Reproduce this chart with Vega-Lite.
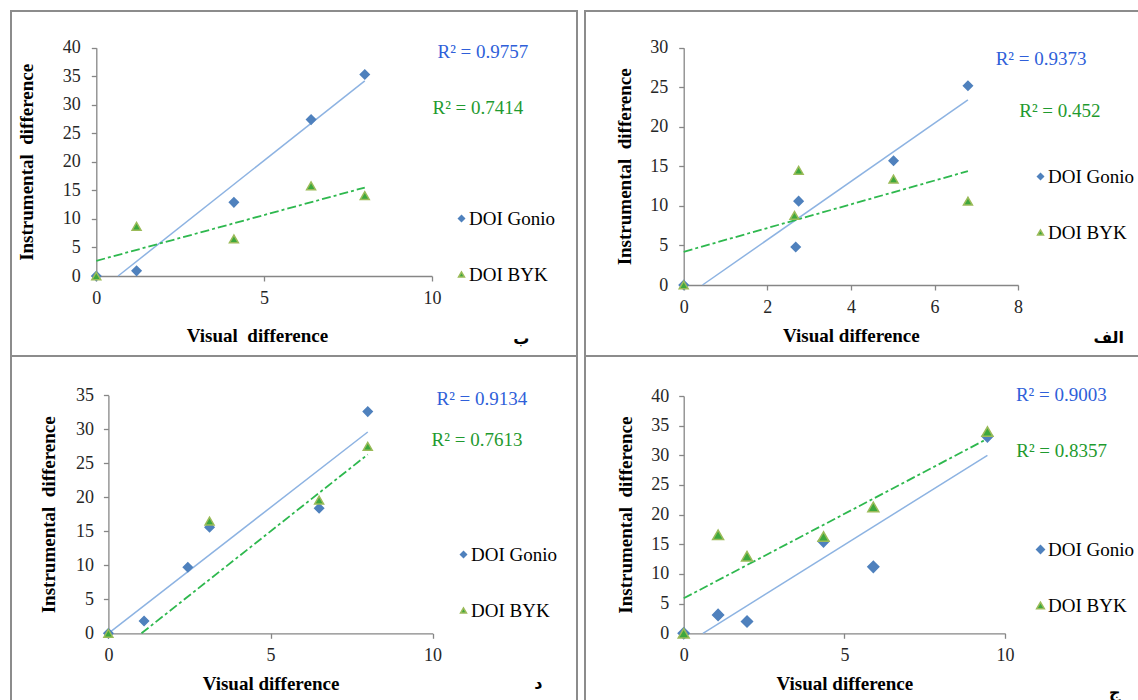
{
  "$schema": "https://vega.github.io/schema/vega-lite/v6.json",
  "padding": {"left": 10, "top": 10, "right": 0, "bottom": 0},
  "background": "white",
  "columns": 2,
  "spacing": {"row": 0, "column": 8},
  "bounds": "flush",
  "datasets": {
    "points": [
      {"panel": "TL", "series": "DOI Gonio", "x": 0, "y": 0},
      {"panel": "TL", "series": "DOI Gonio", "x": 1.2, "y": 0.9},
      {"panel": "TL", "series": "DOI Gonio", "x": 4.1, "y": 12.9},
      {"panel": "TL", "series": "DOI Gonio", "x": 6.4, "y": 27.4},
      {"panel": "TL", "series": "DOI Gonio", "x": 8.0, "y": 35.3},
      {"panel": "TL", "series": "DOI BYK", "x": 0, "y": 0},
      {"panel": "TL", "series": "DOI BYK", "x": 1.2, "y": 8.7},
      {"panel": "TL", "series": "DOI BYK", "x": 4.1, "y": 6.5},
      {"panel": "TL", "series": "DOI BYK", "x": 6.4, "y": 15.8},
      {"panel": "TL", "series": "DOI BYK", "x": 8.0, "y": 14.1},
      {"panel": "TR", "series": "DOI Gonio", "x": 0, "y": 0},
      {"panel": "TR", "series": "DOI Gonio", "x": 2.68, "y": 4.8},
      {"panel": "TR", "series": "DOI Gonio", "x": 2.75, "y": 10.6},
      {"panel": "TR", "series": "DOI Gonio", "x": 5.02, "y": 15.7},
      {"panel": "TR", "series": "DOI Gonio", "x": 6.8, "y": 25.2},
      {"panel": "TR", "series": "DOI BYK", "x": 0, "y": 0},
      {"panel": "TR", "series": "DOI BYK", "x": 2.65, "y": 8.8},
      {"panel": "TR", "series": "DOI BYK", "x": 2.75, "y": 14.5},
      {"panel": "TR", "series": "DOI BYK", "x": 5.02, "y": 13.4},
      {"panel": "TR", "series": "DOI BYK", "x": 6.8, "y": 10.6},
      {"panel": "BL", "series": "DOI Gonio", "x": 0, "y": 0},
      {"panel": "BL", "series": "DOI Gonio", "x": 1.1, "y": 1.8},
      {"panel": "BL", "series": "DOI Gonio", "x": 2.45, "y": 9.7},
      {"panel": "BL", "series": "DOI Gonio", "x": 3.12, "y": 15.6},
      {"panel": "BL", "series": "DOI Gonio", "x": 6.5, "y": 18.4},
      {"panel": "BL", "series": "DOI Gonio", "x": 8.0, "y": 32.6},
      {"panel": "BL", "series": "DOI BYK", "x": 0, "y": 0},
      {"panel": "BL", "series": "DOI BYK", "x": 3.12, "y": 16.5},
      {"panel": "BL", "series": "DOI BYK", "x": 6.5, "y": 19.6},
      {"panel": "BL", "series": "DOI BYK", "x": 8.0, "y": 27.5},
      {"panel": "BR", "series": "DOI Gonio", "x": 0, "y": 0},
      {"panel": "BR", "series": "DOI Gonio", "x": 1.07, "y": 3.1},
      {"panel": "BR", "series": "DOI Gonio", "x": 1.97, "y": 2.0},
      {"panel": "BR", "series": "DOI Gonio", "x": 4.35, "y": 15.5},
      {"panel": "BR", "series": "DOI Gonio", "x": 5.9, "y": 11.2},
      {"panel": "BR", "series": "DOI Gonio", "x": 9.45, "y": 33.2},
      {"panel": "BR", "series": "DOI BYK", "x": 0, "y": 0},
      {"panel": "BR", "series": "DOI BYK", "x": 1.07, "y": 16.6},
      {"panel": "BR", "series": "DOI BYK", "x": 1.97, "y": 13.0},
      {"panel": "BR", "series": "DOI BYK", "x": 4.35, "y": 16.3},
      {"panel": "BR", "series": "DOI BYK", "x": 5.9, "y": 21.3},
      {"panel": "BR", "series": "DOI BYK", "x": 9.45, "y": 34.0}
    ],
    "trend": [
      {"panel": "TL", "series": "DOI Gonio", "x": 0.65, "y": 0},
      {"panel": "TL", "series": "DOI Gonio", "x": 8.0, "y": 34.2},
      {"panel": "TL", "series": "DOI BYK", "x": 0, "y": 2.65},
      {"panel": "TL", "series": "DOI BYK", "x": 8.0, "y": 15.5},
      {"panel": "TR", "series": "DOI Gonio", "x": 0.45, "y": 0},
      {"panel": "TR", "series": "DOI Gonio", "x": 6.8, "y": 23.4},
      {"panel": "TR", "series": "DOI BYK", "x": 0, "y": 4.2},
      {"panel": "TR", "series": "DOI BYK", "x": 6.8, "y": 14.4},
      {"panel": "BL", "series": "DOI Gonio", "x": 0, "y": 0},
      {"panel": "BL", "series": "DOI Gonio", "x": 8.0, "y": 29.6},
      {"panel": "BL", "series": "DOI BYK", "x": 1.02, "y": 0},
      {"panel": "BL", "series": "DOI BYK", "x": 8.0, "y": 26.3},
      {"panel": "BR", "series": "DOI Gonio", "x": 0.6, "y": 0},
      {"panel": "BR", "series": "DOI Gonio", "x": 9.45, "y": 30.0},
      {"panel": "BR", "series": "DOI BYK", "x": 0, "y": 5.9},
      {"panel": "BR", "series": "DOI BYK", "x": 9.45, "y": 32.8}
    ],
    "r2": [
      {"panel": "TL", "series": "DOI Gonio", "label": "R² = 0.9757"},
      {"panel": "TL", "series": "DOI BYK", "label": "R² = 0.7414"},
      {"panel": "TR", "series": "DOI Gonio", "label": "R² = 0.9373"},
      {"panel": "TR", "series": "DOI BYK", "label": "R² = 0.452"},
      {"panel": "BL", "series": "DOI Gonio", "label": "R² = 0.9134"},
      {"panel": "BL", "series": "DOI BYK", "label": "R² = 0.7613"},
      {"panel": "BR", "series": "DOI Gonio", "label": "R² = 0.9003"},
      {"panel": "BR", "series": "DOI BYK", "label": "R² = 0.8357"}
    ],
    "tags": [
      {"panel": "TL", "tag": "ب"},
      {"panel": "TR", "tag": "الف"},
      {"panel": "BL", "tag": "د"},
      {"panel": "BR", "tag": "ج"}
    ]
  },
  "resolve": {
    "scale": {"color": "independent", "shape": "independent", "stroke": "independent"},
    "legend": {"color": "independent", "shape": "independent", "stroke": "independent"}
  },
  "concat": [
    {
      "width": 566, "height": 345,
      "layer": [
        {"data": {"name": "trend"}, "transform": [{"filter": "datum.panel === 'TL' && datum.series === 'DOI Gonio'"}],
         "mark": {"type": "line", "color": "#8DB3E2", "strokeWidth": 1.5},
         "encoding": {
           "x": {"field": "x", "type": "quantitative", "scale": {"domain": [0, 10], "range": [85.3, 420.9], "nice": false, "zero": false},
                 "axis": {"values": [0, 5, 10], "format": "d", "offset": -80, "labelPadding": 8, "title": "Visual\u00a0 difference", "titlePadding": 19, "titleX": 246}},
           "y": {"field": "y", "type": "quantitative", "scale": {"domain": [0, 40], "range": [265, 36.7], "nice": false, "zero": false},
                 "axis": {"values": [0, 5, 10, 15, 20, 25, 30, 35, 40], "format": "d", "offset": -85.3, "labelPadding": 11, "title": "Instrumental\u00a0 difference", "titlePadding": 26}}
         }},
        {"data": {"name": "trend"}, "transform": [{"filter": "datum.panel === 'TL' && datum.series === 'DOI BYK'"}],
         "mark": {"type": "line", "color": "#2EB84E", "strokeWidth": 1.8, "strokeDash": [9, 3, 3, 3]},
         "encoding": {"x": {"field": "x", "type": "quantitative"}, "y": {"field": "y", "type": "quantitative"}}},
        {"data": {"name": "points"}, "transform": [{"filter": "datum.panel === 'TL'"}],
         "mark": {"type": "point", "filled": true, "size": 80, "strokeWidth": 1.5, "opacity": 1},
         "encoding": {
           "x": {"field": "x", "type": "quantitative"}, "y": {"field": "y", "type": "quantitative"},
           "color": {"field": "series", "type": "nominal", "scale": {"domain": ["DOI Gonio", "DOI BYK"], "range": ["#4F81BD", "#3DA83D"]}, "legend": {"orient": "none", "legendX": 441, "legendY": 198, "title": null}},
           "shape": {"field": "series", "type": "nominal", "scale": {"domain": ["DOI Gonio", "DOI BYK"], "range": ["diamond", "triangle-up"]}, "legend": {"orient": "none", "legendX": 441, "legendY": 198, "title": null}},
           "stroke": {"field": "series", "type": "nominal", "scale": {"domain": ["DOI Gonio", "DOI BYK"], "range": ["#4F81BD", "#9BBB59"]}, "legend": {"orient": "none", "legendX": 441, "legendY": 198, "title": null}}
         }},
        {"data": {"name": "r2"}, "transform": [{"filter": "datum.panel === 'TL' && datum.series === 'DOI Gonio'"}],
         "mark": {"type": "text", "font": "Liberation Serif", "fontSize": 19, "color": "#2F5FD9", "align": "center", "baseline": "middle"},
         "encoding": {"x": {"datum": 11.52, "type": "quantitative"}, "y": {"datum": 39.3, "type": "quantitative"}, "text": {"field": "label"}}},
        {"data": {"name": "r2"}, "transform": [{"filter": "datum.panel === 'TL' && datum.series === 'DOI BYK'"}],
         "mark": {"type": "text", "font": "Liberation Serif", "fontSize": 19, "color": "#1F9A2F", "align": "center", "baseline": "middle"},
         "encoding": {"x": {"datum": 11.37, "type": "quantitative"}, "y": {"datum": 29.4, "type": "quantitative"}, "text": {"field": "label"}}},
        {"data": {"name": "tags"}, "transform": [{"filter": "datum.panel === 'TL'"}],
         "mark": {"type": "text", "font": "DejaVu Sans", "fontSize": 16, "fontWeight": "bold", "color": "#000", "align": "center", "baseline": "middle"},
         "encoding": {"x": {"datum": 12.66, "type": "quantitative"}, "y": {"datum": -11.05, "type": "quantitative"}, "text": {"field": "tag"}}}
      ]
    },
    {
      "width": 554, "height": 345,
      "layer": [
        {"data": {"name": "trend"}, "transform": [{"filter": "datum.panel === 'TR' && datum.series === 'DOI Gonio'"}],
         "mark": {"type": "line", "color": "#8DB3E2", "strokeWidth": 1.5},
         "encoding": {
           "x": {"field": "x", "type": "quantitative", "scale": {"domain": [0, 8], "range": [98.7, 433.1], "nice": false, "zero": false},
                 "axis": {"values": [0, 2, 4, 6, 8], "format": "d", "offset": -71, "labelPadding": 8, "title": "Visual difference", "titlePadding": 10.5}},
           "y": {"field": "y", "type": "quantitative", "scale": {"domain": [0, 30], "range": [274, 36.7], "nice": false, "zero": false},
                 "axis": {"values": [0, 5, 10, 15, 20, 25, 30], "format": "d", "offset": -98.7, "labelPadding": 11, "title": "Instrumental\u00a0 difference", "titlePadding": 15.5}}
         }},
        {"data": {"name": "trend"}, "transform": [{"filter": "datum.panel === 'TR' && datum.series === 'DOI BYK'"}],
         "mark": {"type": "line", "color": "#2EB84E", "strokeWidth": 1.8, "strokeDash": [9, 3, 3, 3]},
         "encoding": {"x": {"field": "x", "type": "quantitative"}, "y": {"field": "y", "type": "quantitative"}}},
        {"data": {"name": "points"}, "transform": [{"filter": "datum.panel === 'TR'"}],
         "mark": {"type": "point", "filled": true, "size": 80, "strokeWidth": 1.5, "opacity": 1},
         "encoding": {
           "x": {"field": "x", "type": "quantitative"}, "y": {"field": "y", "type": "quantitative"},
           "color": {"field": "series", "type": "nominal", "scale": {"domain": ["DOI Gonio", "DOI BYK"], "range": ["#4F81BD", "#3DA83D"]}, "legend": {"orient": "none", "legendX": 446, "legendY": 156, "title": null}},
           "shape": {"field": "series", "type": "nominal", "scale": {"domain": ["DOI Gonio", "DOI BYK"], "range": ["diamond", "triangle-up"]}, "legend": {"orient": "none", "legendX": 446, "legendY": 156, "title": null}},
           "stroke": {"field": "series", "type": "nominal", "scale": {"domain": ["DOI Gonio", "DOI BYK"], "range": ["#4F81BD", "#9BBB59"]}, "legend": {"orient": "none", "legendX": 446, "legendY": 156, "title": null}}
         }},
        {"data": {"name": "r2"}, "transform": [{"filter": "datum.panel === 'TR' && datum.series === 'DOI Gonio'"}],
         "mark": {"type": "text", "font": "Liberation Serif", "fontSize": 19, "color": "#2F5FD9", "align": "center", "baseline": "middle"},
         "encoding": {"x": {"datum": 8.55, "type": "quantitative"}, "y": {"datum": 28.63, "type": "quantitative"}, "text": {"field": "label"}}},
        {"data": {"name": "r2"}, "transform": [{"filter": "datum.panel === 'TR' && datum.series === 'DOI BYK'"}],
         "mark": {"type": "text", "font": "Liberation Serif", "fontSize": 19, "color": "#1F9A2F", "align": "center", "baseline": "middle"},
         "encoding": {"x": {"datum": 9.0, "type": "quantitative"}, "y": {"datum": 22.06, "type": "quantitative"}, "text": {"field": "label"}}},
        {"data": {"name": "tags"}, "transform": [{"filter": "datum.panel === 'TR'"}],
         "mark": {"type": "text", "font": "DejaVu Sans", "fontSize": 16, "fontWeight": "bold", "color": "#000", "align": "center", "baseline": "middle"},
         "encoding": {"x": {"datum": 10.17, "type": "quantitative"}, "y": {"datum": -6.66, "type": "quantitative"}, "text": {"field": "tag"}}}
      ]
    },
    {
      "width": 566, "height": 345,
      "layer": [
        {"data": {"name": "trend"}, "transform": [{"filter": "datum.panel === 'BL' && datum.series === 'DOI Gonio'"}],
         "mark": {"type": "line", "color": "#8DB3E2", "strokeWidth": 1.5},
         "encoding": {
           "x": {"field": "x", "type": "quantitative", "scale": {"domain": [0, 10], "range": [97.4, 421.6], "nice": false, "zero": false},
                 "axis": {"values": [0, 5, 10], "format": "d", "offset": -67.7, "labelPadding": 8, "title": "Visual difference", "titlePadding": 10.5}},
           "y": {"field": "y", "type": "quantitative", "scale": {"domain": [0, 35], "range": [277.3, 39.3], "nice": false, "zero": false},
                 "axis": {"values": [0, 5, 10, 15, 20, 25, 30, 35], "format": "d", "offset": -97.4, "labelPadding": 10, "title": "Instrumental\u00a0 difference", "titlePadding": 17}}
         }},
        {"data": {"name": "trend"}, "transform": [{"filter": "datum.panel === 'BL' && datum.series === 'DOI BYK'"}],
         "mark": {"type": "line", "color": "#2EB84E", "strokeWidth": 1.8, "strokeDash": [9, 3, 3, 3]},
         "encoding": {"x": {"field": "x", "type": "quantitative"}, "y": {"field": "y", "type": "quantitative"}}},
        {"data": {"name": "points"}, "transform": [{"filter": "datum.panel === 'BL'"}],
         "mark": {"type": "point", "filled": true, "size": 80, "strokeWidth": 1.5, "opacity": 1},
         "encoding": {
           "x": {"field": "x", "type": "quantitative"}, "y": {"field": "y", "type": "quantitative"},
           "color": {"field": "series", "type": "nominal", "scale": {"domain": ["DOI Gonio", "DOI BYK"], "range": ["#4F81BD", "#3DA83D"]}, "legend": {"orient": "none", "legendX": 443, "legendY": 189, "title": null}},
           "shape": {"field": "series", "type": "nominal", "scale": {"domain": ["DOI Gonio", "DOI BYK"], "range": ["diamond", "triangle-up"]}, "legend": {"orient": "none", "legendX": 443, "legendY": 189, "title": null}},
           "stroke": {"field": "series", "type": "nominal", "scale": {"domain": ["DOI Gonio", "DOI BYK"], "range": ["#4F81BD", "#9BBB59"]}, "legend": {"orient": "none", "legendX": 443, "legendY": 189, "title": null}}
         }},
        {"data": {"name": "r2"}, "transform": [{"filter": "datum.panel === 'BL' && datum.series === 'DOI Gonio'"}],
         "mark": {"type": "text", "font": "Liberation Serif", "fontSize": 19, "color": "#2F5FD9", "align": "center", "baseline": "middle"},
         "encoding": {"x": {"datum": 11.52, "type": "quantitative"}, "y": {"datum": 34.4, "type": "quantitative"}, "text": {"field": "label"}}},
        {"data": {"name": "r2"}, "transform": [{"filter": "datum.panel === 'BL' && datum.series === 'DOI BYK'"}],
         "mark": {"type": "text", "font": "Liberation Serif", "fontSize": 19, "color": "#1F9A2F", "align": "center", "baseline": "middle"},
         "encoding": {"x": {"datum": 11.37, "type": "quantitative"}, "y": {"datum": 28.46, "type": "quantitative"}, "text": {"field": "label"}}},
        {"data": {"name": "tags"}, "transform": [{"filter": "datum.panel === 'BL'"}],
         "mark": {"type": "text", "font": "DejaVu Sans", "fontSize": 16, "fontWeight": "bold", "color": "#000", "align": "center", "baseline": "middle"},
         "encoding": {"x": {"datum": 13.26, "type": "quantitative"}, "y": {"datum": -7.46, "type": "quantitative"}, "text": {"field": "tag"}}}
      ]
    },
    {
      "width": 554, "height": 345,
      "layer": [
        {"data": {"name": "trend"}, "transform": [{"filter": "datum.panel === 'BR' && datum.series === 'DOI Gonio'"}],
         "mark": {"type": "line", "color": "#8DB3E2", "strokeWidth": 1.5},
         "encoding": {
           "x": {"field": "x", "type": "quantitative", "scale": {"domain": [0, 10], "range": [98.7, 420.1], "nice": false, "zero": false},
                 "axis": {"values": [0, 5, 10], "format": "d", "offset": -67.7, "labelPadding": 8, "title": "Visual difference", "titlePadding": 10.5}},
           "y": {"field": "y", "type": "quantitative", "scale": {"domain": [0, 40], "range": [277.3, 40], "nice": false, "zero": false},
                 "axis": {"values": [0, 5, 10, 15, 20, 25, 30, 35, 40], "format": "d", "offset": -98.7, "labelPadding": 10, "title": "Instrumental\u00a0 difference", "titlePadding": 15}}
         }},
        {"data": {"name": "trend"}, "transform": [{"filter": "datum.panel === 'BR' && datum.series === 'DOI BYK'"}],
         "mark": {"type": "line", "color": "#2EB84E", "strokeWidth": 1.8, "strokeDash": [9, 3, 3, 3]},
         "encoding": {"x": {"field": "x", "type": "quantitative"}, "y": {"field": "y", "type": "quantitative"}}},
        {"data": {"name": "points"}, "transform": [{"filter": "datum.panel === 'BR'"}],
         "mark": {"type": "point", "filled": true, "size": 120, "strokeWidth": 1.5, "opacity": 1},
         "encoding": {
           "x": {"field": "x", "type": "quantitative"}, "y": {"field": "y", "type": "quantitative"},
           "color": {"field": "series", "type": "nominal", "scale": {"domain": ["DOI Gonio", "DOI BYK"], "range": ["#4F81BD", "#3DA83D"]}, "legend": {"orient": "none", "legendX": 446, "legendY": 184, "title": null, "symbolSize": 60}},
           "shape": {"field": "series", "type": "nominal", "scale": {"domain": ["DOI Gonio", "DOI BYK"], "range": ["diamond", "triangle-up"]}, "legend": {"orient": "none", "legendX": 446, "legendY": 184, "title": null, "symbolSize": 60}},
           "stroke": {"field": "series", "type": "nominal", "scale": {"domain": ["DOI Gonio", "DOI BYK"], "range": ["#4F81BD", "#9BBB59"]}, "legend": {"orient": "none", "legendX": 446, "legendY": 184, "title": null, "symbolSize": 60}}
         }},
        {"data": {"name": "r2"}, "transform": [{"filter": "datum.panel === 'BR' && datum.series === 'DOI Gonio'"}],
         "mark": {"type": "text", "font": "Liberation Serif", "fontSize": 19, "color": "#2F5FD9", "align": "center", "baseline": "middle"},
         "encoding": {"x": {"datum": 11.75, "type": "quantitative"}, "y": {"datum": 40.2, "type": "quantitative"}, "text": {"field": "label"}}},
        {"data": {"name": "r2"}, "transform": [{"filter": "datum.panel === 'BR' && datum.series === 'DOI BYK'"}],
         "mark": {"type": "text", "font": "Liberation Serif", "fontSize": 19, "color": "#1F9A2F", "align": "center", "baseline": "middle"},
         "encoding": {"x": {"datum": 11.76, "type": "quantitative"}, "y": {"datum": 30.8, "type": "quantitative"}, "text": {"field": "label"}}},
        {"data": {"name": "tags"}, "transform": [{"filter": "datum.panel === 'BR'"}],
         "mark": {"type": "text", "font": "DejaVu Sans", "fontSize": 16, "fontWeight": "bold", "color": "#000", "align": "center", "baseline": "middle"},
         "encoding": {"x": {"datum": 13.41, "type": "quantitative"}, "y": {"datum": -10.0, "type": "quantitative"}, "text": {"field": "tag"}}}
      ]
    }
  ],
  "config": {
    "font": "Liberation Serif",
    "view": {"stroke": "#8C8C8C", "strokeWidth": 2},
    "axis": {
      "grid": false, "domainColor": "#868686", "domainWidth": 1.3, "tickColor": "#868686", "tickWidth": 1.3, "tickSize": 5,
      "labelFont": "Liberation Serif", "labelFontSize": 18, "labelColor": "#262626", "labelFlush": false, "labelOverlap": false,
      "titleFont": "Liberation Serif", "titleFontSize": 19, "titleFontWeight": "bold", "titleColor": "#000000"
    },
    "legend": {
      "labelFont": "Liberation Serif", "labelFontSize": 19, "labelColor": "#000000", "symbolSize": 35,
      "labelOffset": -2, "rowPadding": 36, "padding": 0, "symbolStrokeWidth": 1.5
    }
  }
}
